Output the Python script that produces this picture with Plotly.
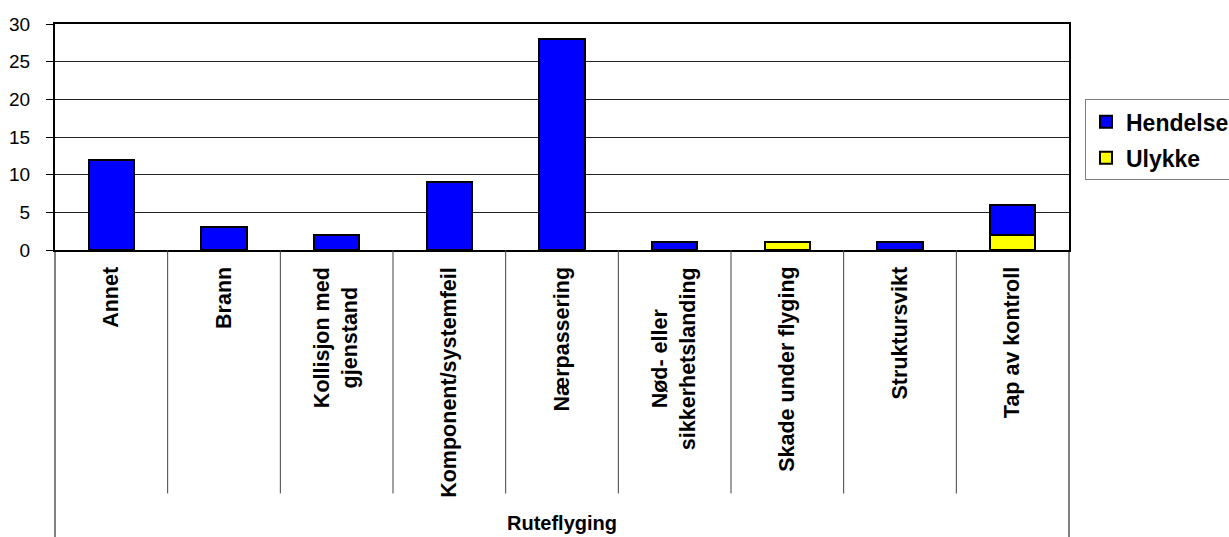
import plotly.graph_objects as go

categories = ["Annet", "Brann", "Kollisjon med<br>gjenstand", "Komponent/systemfeil",
              "Nærpassering", "Nød- eller<br>sikkerhetslanding", "Skade under flyging",
              "Struktursvikt", "Tap av kontroll"]
hendelse = [12, 3, 2, 9, 28, 1, 0, 1, 4]
ulykke = [0, 0, 0, 0, 0, 0, 1, 0, 2]
group_label = "Ruteflyging"
y_ticks = [0, 5, 10, 15, 20, 25, 30]

W, H = 1229, 537
L, T, R, B = 54.5, 23.5, 160, 287
plot_h = H - T - B
FONT = "Liberation Sans, Arial, sans-serif"

def py(px):
    # pixel y (from top) -> paper y
    return (H - B - px) / plot_h

xs = list(range(len(categories)))

fig = go.Figure()
fig.add_trace(go.Bar(x=xs, y=ulykke, name="Ulykke", legendgroup="u", legendrank=2,
                     marker=dict(color="#FFFF00", line=dict(color="black", width=2))))
fig.add_trace(go.Bar(x=xs, y=hendelse, name="Hendelse", legendgroup="h", legendrank=1,
                     marker=dict(color="#0000FF", line=dict(color="black", width=2))))

annotations = []
for i, c in enumerate(categories):
    annotations.append(dict(x=i, xref="x", y=py(265), yref="paper", text=c,
                            textangle=-90, showarrow=False, xanchor="center", yanchor="top",
                            align="center",
                            font=dict(family=FONT, size=21.5, color="black", weight="bold")))
annotations.append(dict(x=0.5, xref="paper", y=py(524), yref="paper", text=group_label,
                        showarrow=False, xanchor="center", yanchor="middle",
                        font=dict(family=FONT, size=20, color="black", weight="bold")))

shapes = []
for k in range(len(categories) - 1):
    shapes.append(dict(type="line", xref="x", yref="paper", x0=k + 0.5, x1=k + 0.5,
                       y0=0, y1=py(494), line=dict(color="#404040", width=1)))
for xp in (0, 1):
    shapes.append(dict(type="line", xref="paper", yref="paper", x0=xp, x1=xp,
                       y0=0, y1=py(545), line=dict(color="black", width=1)))

fig.update_layout(
    width=W, height=H,
    margin=dict(l=L, r=R, t=T, b=B, autoexpand=False),
    barmode="stack", bargap=0.595,
    plot_bgcolor="white", paper_bgcolor="white",
    showlegend=True,
    legend=dict(x=(1085 - L) / (W - L - R), xanchor="left", y=py(99), yanchor="top",
                traceorder="grouped", tracegroupgap=3,
                bordercolor="#808080", borderwidth=1, bgcolor="white",
                font=dict(family=FONT, size=23, color="black", weight="bold")),
    xaxis=dict(range=[-0.5, len(categories) - 0.5], showticklabels=False, ticks="",
               showgrid=False, zeroline=False, showline=True, linecolor="black",
               linewidth=2, mirror=True, fixedrange=True),
    yaxis=dict(range=[0, 30], tickvals=y_ticks, ticks="outside", ticklen=7, tickwidth=1,
               tickcolor="black", ticklabelstandoff=12,
               tickfont=dict(family=FONT, size=19, color="black"),
               showgrid=True, gridcolor="#222222", gridwidth=1, zeroline=False,
               showline=True, linecolor="black", linewidth=2, mirror=True),
    annotations=annotations, shapes=shapes,
)

fig.write_html("out.html")
